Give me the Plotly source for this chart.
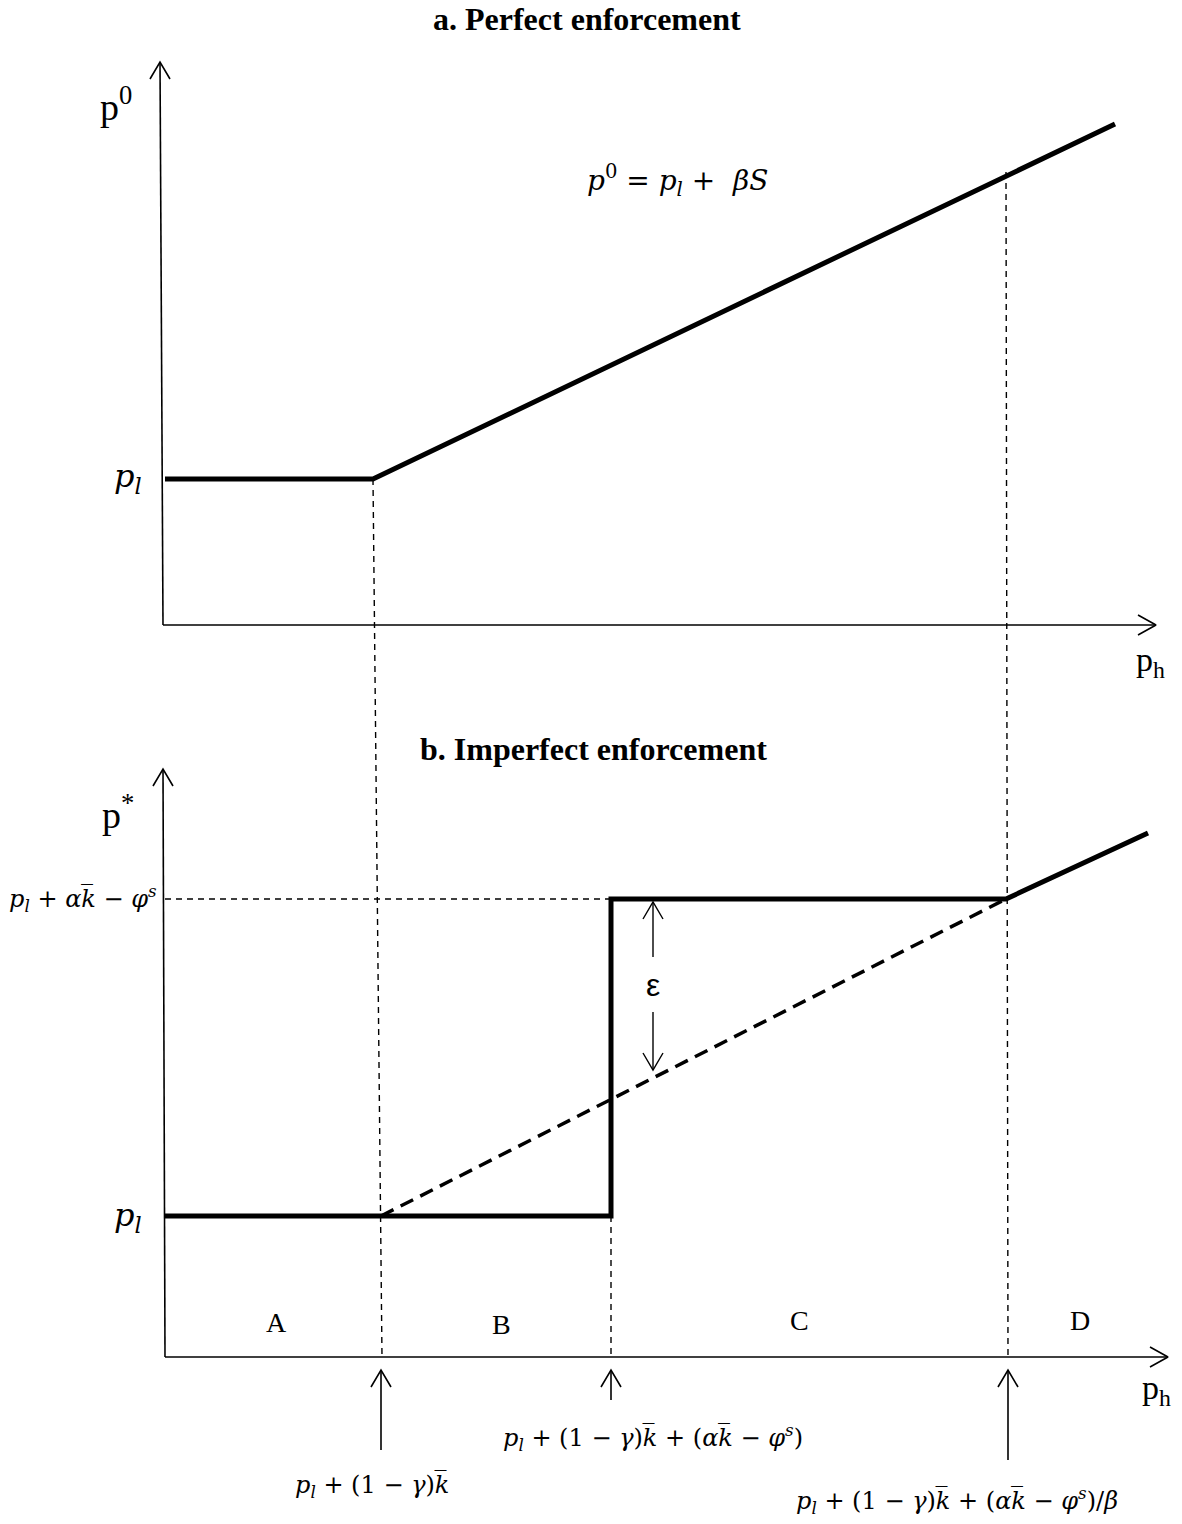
import plotly.graph_objects as go

# Page size (the diagram is laid out in page pixels, y pointing down)
W, H = 1182, 1524

# Panel a: perfect enforcement
a_ph = [165, 373, 1115]
a_p0 = [479, 479, 124]

# Panel b: imperfect enforcement
b_ph = [165, 611, 611, 1006, 1148]
b_pstar = [1216, 1216, 899, 899, 833]
b_dash_ph = [381, 1006]          # dashed p_l + beta*S line
b_dash_p = [1216, 899]

# Threshold guides (dashed verticals / horizontal)
guide1_x = [373, 382]
guide1_y = [479, 1357]
guide2_x = [1006, 1008]
guide2_y = [172, 1357]
guide3_x = [611, 611]
guide3_y = [1216, 1357]
guide4_x = [165, 611]
guide4_y = [899, 899]

regions = ['A', 'B', 'C', 'D']
region_x = [276, 501, 799, 1080]
region_y = [1322, 1324, 1320, 1320]

SERIF = 'Liberation Serif'
MATH = 'DejaVu Serif'
kbar = 'k\u0305'
THIN_DASH = '6px,5px'

fig = go.Figure()

def line(x, y, width, dash='solid'):
    fig.add_trace(go.Scatter(x=x, y=y, mode='lines',
                             line=dict(color='black', width=width, dash=dash),
                             hoverinfo='skip', showlegend=False))

def arrow(x0, y0, x1, y1, head='up', width=1.6):
    # shaft from (x0,y0) to tip (x1,y1), open V head
    line([x0, x1], [y0, y1], width)
    if head == 'up':
        arms = [(x1 - 10, y1 + 17), (x1 + 10, y1 + 17)]
    elif head == 'down':
        arms = [(x1 - 10, y1 - 17), (x1 + 10, y1 - 17)]
    else:  # right
        arms = [(x1 - 18, y1 - 10), (x1 - 18, y1 + 10)]
    line([arms[0][0], x1, arms[1][0]], [arms[0][1], y1, arms[1][1]], width)

# axes panel a
arrow(163, 625, 160, 62, 'up')
arrow(163, 625, 1156, 625, 'right')
# axes panel b
arrow(165, 1357, 163, 769, 'up')
arrow(165, 1357, 1168, 1357, 'right')

# guides
line(guide1_x, guide1_y, 1.4, THIN_DASH)
line(guide2_x, guide2_y, 1.4, THIN_DASH)
line(guide3_x, guide3_y, 1.4, THIN_DASH)
line(guide4_x, guide4_y, 1.4, THIN_DASH)

# curves
line(a_ph, a_p0, 5)
line(b_dash_ph, b_dash_p, 3.5, '14px,8px')
line(b_ph, b_pstar, 5)

# epsilon arrows
arrow(653, 957, 653, 902, 'up', 1.4)
arrow(653, 1012, 653, 1070, 'down', 1.4)

# threshold arrows under the axis
arrow(381, 1450, 381, 1370, 'up', 1.6)
arrow(611, 1400, 611, 1370, 'up', 1.6)
arrow(1008, 1460, 1008, 1370, 'up', 1.6)

def text(x, y, s, size, family=SERIF, color='black'):
    fig.add_annotation(x=x, y=y, xref='x', yref='y', text=s, showarrow=False,
                       font=dict(family=family, size=size, color=color),
                       xanchor='center', yanchor='middle')

text(587, 19, '<b>a. Perfect enforcement</b>', 32)
text(593, 749, '<b>b. Imperfect enforcement</b>', 32)
text(116, 104, 'p<sup>0</sup>', 38)
text(118, 812, 'p<sup>*</sup>', 38)
text(1150, 662, 'p<sub>h</sub>', 34)
text(1156, 1390, 'p<sub>h</sub>', 34)

text(677, 180, '<i>p</i><sup>0</sup> = <i>p<sub>l</sub></i> +  <i>βS</i>', 28, MATH)
text(128, 478, '<i>p<sub>l</sub></i>', 32, MATH)
text(128, 1217, '<i>p<sub>l</sub></i>', 32, MATH)
text(83, 898, '<i>p<sub>l</sub></i> + <i>α' + kbar + '</i> − <i>φ<sup>s</sup></i>', 24, MATH)

for r, rx, ry in zip(regions, region_x, region_y):
    text(rx, ry, r, 28)

text(653, 985, 'ε', 32, 'Liberation Sans')

text(372, 1486, '<i>p<sub>l</sub></i> + (1 − <i>γ</i>)<i>' + kbar + '</i>', 24, MATH)
text(653, 1437, '<i>p<sub>l</sub></i> + (1 − <i>γ</i>)<i>' + kbar + '</i> + (<i>α' + kbar
     + '</i> − <i>φ<sup>s</sup></i>)', 24, MATH)
text(957, 1500, '<i>p<sub>l</sub></i> + (1 − <i>γ</i>)<i>' + kbar + '</i> + (<i>α' + kbar
     + '</i> − <i>φ<sup>s</sup></i>)/<i>β</i>', 24, MATH)

fig.update_layout(
    width=W, height=H,
    margin=dict(l=0, r=0, t=0, b=0),
    paper_bgcolor='white', plot_bgcolor='white',
    xaxis=dict(range=[0, W], visible=False, fixedrange=True),
    yaxis=dict(range=[H, 0], visible=False, fixedrange=True),
    showlegend=False
)

fig.write_html('out.html', config={'displayModeBar': False},
               post_script="document.body.style.margin='0px';")
